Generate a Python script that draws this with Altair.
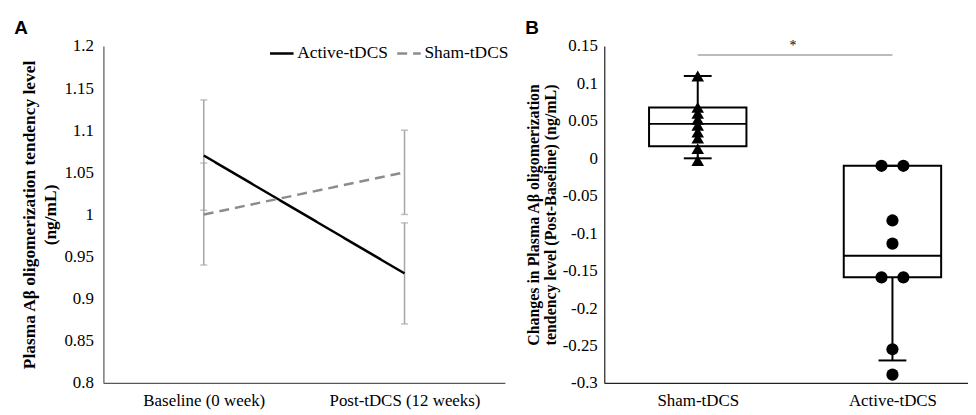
import altair as alt
import pandas as pd

SERIF = "Liberation Serif"
SANS = "Liberation Sans"

# ---------------- Panel A data ----------------
timepoints = ["Baseline (0 week)", "Post-tDCS (12 weeks)"]
series = ["Active-tDCS", "Sham-tDCS"]
active_mean = [1.07, 0.93]
active_low = [1.005, 0.87]
active_high = [1.136, 0.99]
sham_mean = [1.00, 1.05]
sham_low = [0.94, 1.00]
sham_high = [1.061, 1.10]
a_ticks = [0.8, 0.85, 0.9, 0.95, 1.0, 1.05, 1.1, 1.15, 1.2]

# ---------------- Panel B data ----------------
groups = ["Sham-tDCS", "Active-tDCS"]
sham_changes = [0.110, 0.068, 0.060, 0.052, 0.044, 0.035, 0.027, 0.013, -0.003]
active_changes = [-0.010, -0.010, -0.083, -0.114, -0.159, -0.159, -0.255, -0.289]
active_side = [-1, 1, 0, 0, -1, 1, 0, 0]
box_q1 = [0.016, -0.159]
box_median = [0.046, -0.130]
box_q3 = [0.068, -0.010]
whisker_low = [0.000, -0.270]
whisker_high = [0.110, -0.010]
sig_y = [0.138]
b_ticks = [-0.3, -0.25, -0.2, -0.15, -0.1, -0.05, 0, 0.05, 0.1, 0.15]

A_W, A_H = 404, 339
B_W, B_H = 366, 339

rows = []
for i, t in enumerate(timepoints):
    rows.append(dict(time=t, group=series[0], mean=active_mean[i], lo=active_low[i], hi=active_high[i]))
    rows.append(dict(time=t, group=series[1], mean=sham_mean[i], lo=sham_low[i], hi=sham_high[i]))
df_a = pd.DataFrame(rows)

# ---- shared encodings for panel A ----
x_scale_a = alt.Scale(type="point", domain=timepoints, padding=0.5)
x_axis_a = alt.Axis(title=None, labelAngle=0, ticks=False, labelPadding=10,
                    domainColor="#595959", domainWidth=1.2,
                    labelFont=SERIF, labelFontSize=17, labelColor="black")
y_scale_a = alt.Scale(domain=[0.8, 1.2], nice=False, zero=False)
y_axis_a = alt.Axis(values=a_ticks, format="~g", grid=False, ticks=False, labelPadding=10,
                    domainColor="#595959", domainWidth=1.2,
                    labelFont=SERIF, labelFontSize=17, labelColor="black",
                    title=["Plasma A\u03b2 oligomerization tendency level", "(ng/mL)"],
                    titleFont=SERIF, titleFontSize=17.5, titleFontWeight="bold",
                    titleColor="black", titleLineHeight=22, titlePadding=4)


def xa():
    return alt.X("time:N", scale=x_scale_a, axis=x_axis_a)


def ya(field):
    return alt.Y(field + ":Q", scale=y_scale_a, axis=y_axis_a)


base_a = alt.Chart(df_a)
err_a = base_a.mark_rule(color="#a6a6a6", strokeWidth=1.5).encode(x=xa(), y=ya("lo"), y2="hi:Q")
cap_lo_a = base_a.mark_tick(color="#a6a6a6", size=7, thickness=1.5).encode(x=xa(), y=ya("lo"))
cap_hi_a = base_a.mark_tick(color="#a6a6a6", size=7, thickness=1.5).encode(x=xa(), y=ya("hi"))

leg = alt.Legend(title=None, orient="none", legendX=166, legendY=-6, direction="horizontal",
                 symbolType="stroke", symbolSize=560, symbolStrokeWidth=2.5,
                 labelFont=SERIF, labelFontSize=17.5, labelColor="black",
                 labelOffset=2, columnPadding=3)
lines_a = base_a.mark_line(strokeWidth=2.5).encode(
    x=xa(), y=ya("mean"),
    color=alt.Color("group:N", scale=alt.Scale(domain=series, range=["#000000", "#8c8c8c"]), legend=leg),
    strokeDash=alt.StrokeDash("group:N", scale=alt.Scale(domain=series, range=[[1, 0], [10, 6]]),
                              legend=leg),
)

panel_a = alt.layer(err_a, cap_lo_a, cap_hi_a, lines_a).properties(
    width=A_W, height=A_H,
    title=alt.TitleParams("A", anchor="start", frame="bounds", font=SANS, fontSize=19,
                          fontWeight="bold", color="black", offset=-1, dx=-6),
)

# ---------------- Panel B ----------------
df_box = pd.DataFrame(dict(group=groups, q1=box_q1, median=box_median, q3=box_q3,
                           wlo=whisker_low, whi=whisker_high))
pts = [dict(group=groups[0], value=v, side=0) for v in sham_changes]
pts += [dict(group=groups[1], value=v, side=s) for v, s in zip(active_changes, active_side)]
df_pts = pd.DataFrame(pts)
df_sig = pd.DataFrame(dict(g1=[groups[0]], g2=[groups[1]], y=sig_y, label=["*"]))

x_scale_b = alt.Scale(type="point", domain=groups, padding=0.434, align=0.553)
x_axis_b = alt.Axis(title=None, labelAngle=0, ticks=False, labelPadding=10,
                    domainColor="#222222", domainWidth=1.2,
                    labelFont=SERIF, labelFontSize=17, labelColor="black")
y_scale_b = alt.Scale(domain=[-0.3, 0.15], nice=False, zero=False)
y_axis_b = alt.Axis(values=b_ticks, grid=False, ticks=False, labelPadding=7,
                    labelExpr="replace(format(datum.value, '~g'), '\u2212', '-')",
                    domainColor="#222222", domainWidth=1.2,
                    labelFont=SERIF, labelFontSize=17, labelColor="black",
                    title=["Changes in Plasma A\u03b2 oligomerization",
                           "tendency level (Post-Baseline) (ng/mL)"],
                    titleFont=SERIF, titleFontSize=16, titleFontWeight="bold",
                    titleColor="black", titleLineHeight=17, titlePadding=4)


def xb(field="group"):
    return alt.X(field + ":N", scale=x_scale_b, axis=x_axis_b)


def yb(field):
    return alt.Y(field + ":Q", scale=y_scale_b, axis=y_axis_b)


box = alt.Chart(df_box).mark_bar(size=98, fill="white", stroke="black", strokeWidth=2).encode(
    x=xb(), y=yb("q1"), y2="q3:Q")
med = alt.Chart(df_box).mark_tick(size=98, thickness=2, color="black", opacity=1).encode(
    x=xb(), y=yb("median"))
wh_lo = alt.Chart(df_box).mark_rule(strokeWidth=2, color="black").encode(
    x=xb(), y=yb("wlo"), y2="q1:Q")
wh_hi = alt.Chart(df_box).mark_rule(strokeWidth=2, color="black").encode(
    x=xb(), y=yb("q3"), y2="whi:Q")
cap_lo = alt.Chart(df_box).mark_tick(size=28, thickness=2, color="black", opacity=1).encode(
    x=xb(), y=yb("wlo"))
cap_hi = alt.Chart(df_box).mark_tick(size=28, thickness=2, color="black", opacity=1).encode(
    x=xb(), y=yb("whi"))

tri = alt.Chart(df_pts).transform_filter(alt.datum.group == groups[0]).mark_point(
    shape="triangle-up", filled=True, size=160, color="black", opacity=1).encode(
    x=xb(), y=yb("value"))
circ = alt.Chart(df_pts).transform_filter(alt.datum.group == groups[1]).mark_circle(
    size=150, color="black", opacity=1).encode(
    x=xb(),
    xOffset=alt.XOffset("side:Q", scale=alt.Scale(domain=[-1, 1], range=[-11, 11])),
    y=yb("value"))

sig = alt.Chart(df_sig).mark_rule(color="#a6a6a6", strokeWidth=1.5).encode(
    x=xb("g1"), x2="g2:N", y=yb("y"))
star = alt.Chart(df_sig).mark_text(font=SERIF, fontSize=14, color="black", dy=-9).encode(
    x=alt.value(B_W / 2 + 7), y=yb("y"), text="label:N")

panel_b = alt.layer(box, med, wh_lo, wh_hi, cap_lo, cap_hi, tri, circ, sig, star).properties(
    width=B_W, height=B_H,
    title=alt.TitleParams("B", anchor="start", frame="bounds", font=SANS, fontSize=19,
                          fontWeight="bold", color="black", offset=-1, dx=0),
)

chart = alt.hconcat(panel_a, panel_b, spacing=16).resolve_scale(
    color="independent", strokeDash="independent", x="independent", y="independent"
).properties(
    padding={"left": 6, "top": 10, "right": 0, "bottom": 0}
).configure_view(stroke=None).configure_axis(
    grid=False, labelFont=SERIF, labelFontSize=17, labelColor="black", titleFont=SERIF
)

chart.save("out.html", embed_options={"renderer": "svg", "actions": False})
